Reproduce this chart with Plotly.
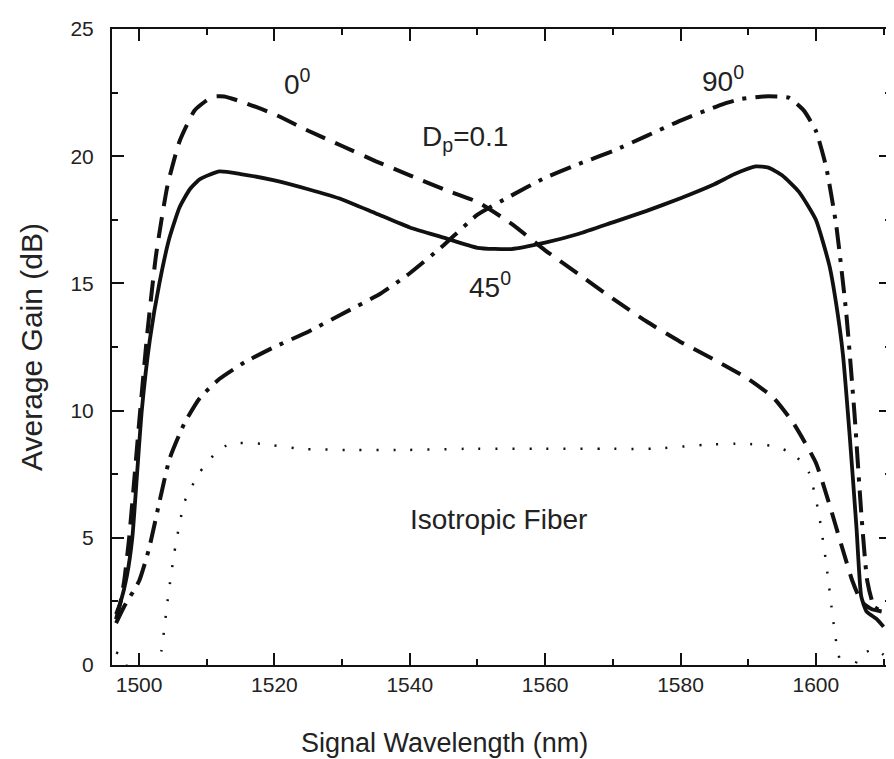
import plotly.graph_objects as go

# Signal wavelength (nm) and average gain (dB)
wl_0deg = [1496.6, 1497.2, 1497.8, 1498.5, 1499.2, 1500, 1501.2, 1502.5, 1504.2, 1506, 1508.2, 1510,
           1511.2, 1512.6, 1515.6, 1520, 1525, 1530, 1535, 1540, 1545, 1550, 1555, 1560, 1565, 1570,
           1575, 1580, 1585, 1590, 1593.75, 1596.7, 1600, 1601.9, 1603.9, 1605.4, 1606.7, 1608.2, 1609.8]
gain_0deg = [1.8, 2.4, 3.3, 4.9, 7.0, 9.5, 13.0, 16.1, 18.85, 20.6, 21.8, 22.2,
             22.35, 22.35, 22.1, 21.65, 21.0, 20.4, 19.8, 19.25, 18.7, 18.2, 17.35, 16.3, 15.35, 14.4,
             13.5, 12.7, 12.0, 11.25, 10.5, 9.5, 7.95, 6.4, 4.6, 3.3, 2.5, 2.2, 2.1]

wl_45deg = [1496.6, 1497.3, 1498.2, 1499, 1499.7, 1500.4, 1501.6, 1503, 1504.5, 1506, 1507.5, 1509,
            1511.9, 1515, 1520, 1525, 1530, 1535, 1540, 1545, 1550, 1555, 1560, 1565, 1570, 1575,
            1580, 1585, 1588, 1591.1, 1593, 1595, 1597.5, 1600, 1602, 1603, 1604, 1605, 1606, 1606.7,
            1607.5, 1609, 1610]
gain_45deg = [2.0, 2.5, 3.5, 5.0, 7.5, 10.0, 12.8, 15.0, 16.8, 18.0, 18.7, 19.1,
              19.4, 19.3, 19.05, 18.7, 18.3, 17.75, 17.2, 16.8, 16.4, 16.35, 16.6, 16.95, 17.4, 17.85,
              18.35, 18.9, 19.3, 19.6, 19.55, 19.25, 18.6, 17.5, 15.7, 14.2, 12.2, 9.0, 5.4, 2.7,
              2.1, 1.8, 1.5]

wl_90deg = [1496.6, 1497.8, 1500, 1501.5, 1503, 1504.5, 1506.7, 1509, 1511.9, 1515.6, 1520, 1525,
            1530, 1535.7, 1540, 1545, 1550, 1555, 1560, 1565, 1570, 1575, 1580, 1586.3, 1589,
            1592.3, 1596, 1598.2, 1600, 1601.5, 1603, 1604.5, 1605.7, 1606.7, 1607.6, 1608.6, 1609.8]
gain_90deg = [1.65, 2.3, 3.3, 4.6, 6.4, 8.1, 9.5, 10.5, 11.25, 11.9, 12.5, 13.1,
              13.8, 14.6, 15.4, 16.5, 17.7, 18.45, 19.15, 19.7, 20.2, 20.8, 21.4, 22.05, 22.25,
              22.35, 22.3, 21.8, 21.0, 19.6, 17.3, 13.8, 9.9, 6.0, 3.3, 2.3, 2.1]

wl_iso = [1496.6, 1497.6, 1498.6, 1499.7, 1500.7, 1501.8, 1502.7, 1503.3, 1504.2, 1505.2, 1506.7,
          1508.9, 1511.2, 1513.4, 1517.9, 1523.8, 1531.3, 1538.7, 1549, 1559.5, 1568.5, 1576, 1583.3,
          1589.3, 1593.75, 1596.7, 1599, 1600.4, 1601.5, 1602.4, 1603.1, 1604, 1605.2, 1606.4, 1607.3,
          1608.3, 1609.5, 1610]
gain_iso = [0.5, 0.35, -0.3, -0.2, 0.1, -0.4, -0.1, 0.55, 2.5, 4.4, 6.4,
            7.55, 8.3, 8.7, 8.7, 8.5, 8.45, 8.45, 8.5, 8.5, 8.5, 8.5, 8.65,
            8.7, 8.6, 8.3, 7.55, 6.0, 4.05, 2.1, 0.74, -0.2, -0.3, 0.35, 0.5,
            0.6, 0.5, 0.4]

x_ticks = [1500, 1520, 1540, 1560, 1580, 1600]
y_ticks = [0, 5, 10, 15, 20, 25]

font_family = "Liberation Sans, Arial, sans-serif"
ink = "#111111"
txt = "#222222"

fig = go.Figure()
fig.add_trace(go.Scatter(x=wl_iso, y=gain_iso, mode="lines", name="Isotropic Fiber",
                         line=dict(color=ink, width=2.5, dash="2px,15px", shape="spline", smoothing=0.5)))
fig.add_trace(go.Scatter(x=wl_90deg, y=gain_90deg, mode="lines", name="90°",
                         line=dict(color=ink, width=4, dash="22px,9px,4px,9px", shape="spline", smoothing=0.5)))
fig.add_trace(go.Scatter(x=wl_0deg, y=gain_0deg, mode="lines", name="0°",
                         line=dict(color=ink, width=4, dash="21px,11px", shape="spline", smoothing=0.5)))
fig.add_trace(go.Scatter(x=wl_45deg, y=gain_45deg, mode="lines", name="45°",
                         line=dict(color=ink, width=3.8, shape="spline", smoothing=0.5)))

axis_common = dict(
    showline=True, linecolor=ink, linewidth=2, mirror="ticks",
    ticks="inside", ticklen=12, tickwidth=2, tickcolor=ink,
    showgrid=False, zeroline=False, ticklabeloverflow="allow",
    tickfont=dict(family=font_family, size=21, color=txt),
)

fig.update_xaxes(range=[1496.0, 1611.1], tickvals=x_ticks, ticktext=[str(v) for v in x_ticks],
                 minor=dict(dtick=10, tick0=1490, ticks="inside", ticklen=6, tickwidth=2, tickcolor=ink),
                 ticklabelstandoff=0,
                 **axis_common)
fig.update_yaxes(range=[0, 25], tickvals=y_ticks, ticktext=[str(v) for v in y_ticks],
                 minor=dict(dtick=2.5, tick0=0, ticks="inside", ticklen=6, tickwidth=2, tickcolor=ink),
                 ticklabelstandoff=12,
                 **axis_common)

ann_font = dict(family=font_family, size=28, color=txt)
annotations = [
    ("0<sup>0</sup>", 1523.4, 22.9),
    ("90<sup>0</sup>", 1586.3, 23.05),
    ("D<sub>p</sub>=0.1", 1548.1, 20.7),
    ("45<sup>0</sup>", 1551.8, 14.95),
    ("Isotropic Fiber", 1553.1, 5.72),
]
for text, ax_, ay_ in annotations:
    fig.add_annotation(x=ax_, y=ay_, text=text, showarrow=False, font=ann_font)

fig.add_annotation(text="Signal Wavelength (nm)", xref="paper", yref="paper", x=0.427, y=-0.122,
                   xanchor="center", yanchor="middle", showarrow=False,
                   font=dict(family=font_family, size=27, color=txt))
fig.add_annotation(text="Average Gain (dB)", xref="paper", yref="paper", x=-0.104, y=0.5,
                   xanchor="center", yanchor="middle", textangle=-90, showarrow=False,
                   font=dict(family=font_family, size=30, color=txt))

fig.update_layout(
    width=894, height=759,
    margin=dict(l=104, r=10, t=9, b=102),
    paper_bgcolor="white", plot_bgcolor="white",
    showlegend=False,
)

fig.write_html("out.html")
